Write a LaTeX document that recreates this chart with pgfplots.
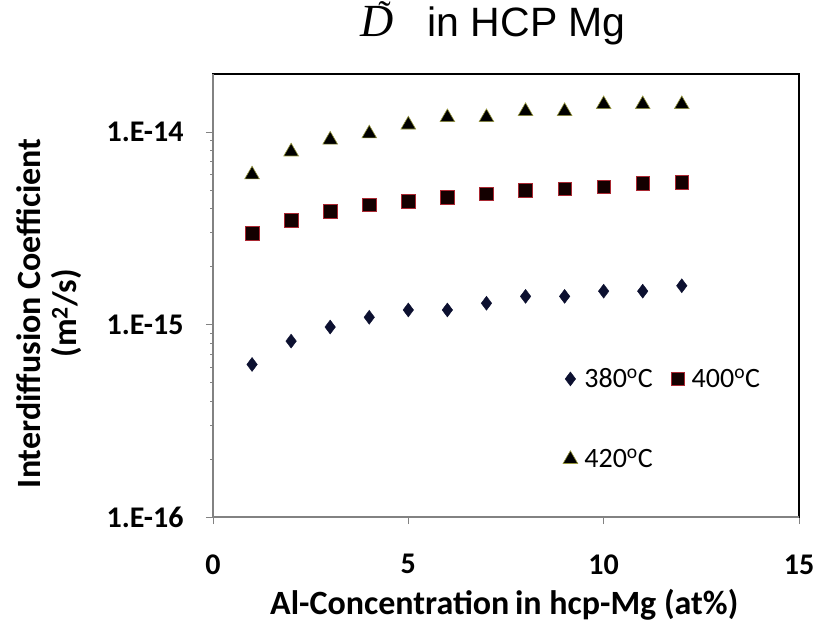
\documentclass[border=0pt]{standalone}
\usepackage{fontspec}
\setmainfont{Carlito}
\newfontfamily\titlefont{Liberation Sans}
\newfontfamily\timesfont{Liberation Serif}
\usepackage{pgfplots}
\pgfplotsset{compat=1.18}

\definecolor{navy}{RGB}{12,16,48}
\definecolor{sqfill}{RGB}{20,0,0}
\definecolor{sqedge}{RGB}{170,40,50}
\definecolor{triedge}{RGB}{150,150,60}
\definecolor{axgray}{RGB}{130,130,130}

\begin{document}
\begin{tikzpicture}
\begin{axis}[
    scale only axis,
    width=586pt, height=443pt,
    xmin=0, xmax=15,
    ymode=log,
    ymin=1e-16, ymax=2e-14,
    xtick={0,5,10,15},
    xticklabels={0,5,10,15},
    ytick={1e-16,1e-15,1e-14},
    yticklabels={1.E-16,1.E-15,1.E-14},
    minor ytick={},
    xtick pos=bottom, ytick pos=left,
    tick align=outside,
    major tick length=7pt,
    tick style={axgray, line width=0.8pt},
    axis line style={black, line width=1.2pt},
    ticklabel style={font=\bfseries\fontsize{30}{34}\selectfont},
    /pgf/number format/assume math mode=true,
    xticklabel style={yshift=-27pt},
    yticklabel style={xshift=-19pt},
    xlabel={Al-Concentration\hspace{-2pt} in hcp-Mg (at\%)},
    xlabel style={font=\bfseries\fontsize{34}{40}\selectfont, at={(axis description cs:0.497,-0.199)}, anchor=center},
    ylabel={\begin{tabular}{c}Interdiffusion Coefficient\\(m\textsuperscript{2}/s)\end{tabular}},
    ylabel style={font=\bfseries\fontsize{34}{35}\selectfont, at={(axis description cs:-0.275,0.46)}, anchor=center},
    title={{\timesfont\fontsize{46}{50}\selectfont\itshape D}\llap{\raisebox{10pt}{\timesfont\fontsize{37}{40}\selectfont\symbol{"02DC}}\hspace{3pt}}\hspace{34pt}{\titlefont\fontsize{41}{46}\selectfont in HCP Mg}},
    title style={at={(axis description cs:0.478,1.072)}, anchor=base, inner sep=0pt},
    legend columns=2,
    legend style={draw=none, fill=none, at={(axis description cs:0.597,0.34)}, anchor=north west,
        font=\fontsize{28}{32}\selectfont, row sep=56pt, inner sep=0pt,
        nodes={inner sep=2pt}, /tikz/every even column/.append style={column sep=16pt}},
    legend cell align=left,
    legend image code/.code={\path[draw=none, fill=none] (-7pt,0pt) -- (12pt,0pt); \draw[#1] plot coordinates {(0pt,0pt)};},
    clip=false,
]
\coordinate (O) at (rel axis cs:0,0);

% 380 C
\addplot[only marks, mark=diamond*, mark size=7pt, mark options={fill=navy, draw=navy}] coordinates {
    (1,6.2e-16) (2,8.2e-16) (3,9.7e-16) (4,1.09e-15) (5,1.19e-15) (6,1.19e-15)
    (7,1.29e-15) (8,1.40e-15) (9,1.40e-15) (10,1.49e-15) (11,1.49e-15) (12,1.59e-15)
};
\addlegendentry{380\textsuperscript{o}C}

% 400 C
\addplot[only marks, mark=square*, mark size=6.8pt, mark options={fill=sqfill, draw=sqedge, line width=0.6pt}] coordinates {
    (1,2.98e-15) (2,3.49e-15) (3,3.86e-15) (4,4.19e-15) (5,4.38e-15) (6,4.57e-15)
    (7,4.78e-15) (8,4.99e-15) (9,5.07e-15) (10,5.19e-15) (11,5.40e-15) (12,5.49e-15)
};
\addlegendentry{400\textsuperscript{o}C}

% 420 C
\addplot[only marks, mark=triangle*, mark size=8.5pt, mark options={fill=black, draw=triedge, line width=0.6pt}] coordinates {
    (1,6.0e-15) (2,7.9e-15) (3,9.1e-15) (4,9.8e-15) (5,1.09e-14) (6,1.19e-14)
    (7,1.19e-14) (8,1.28e-14) (9,1.28e-14) (10,1.39e-14) (11,1.39e-14) (12,1.39e-14)
};
\addlegendentry{420\textsuperscript{o}C}

% gray axis lines over left and bottom frame
\draw[axgray, line width=1.4pt] (rel axis cs:0,1) -- (rel axis cs:0,0) -- (rel axis cs:1,0);
\end{axis}
\pgfresetboundingbox
\path[use as bounding box] ([shift={(-213pt,-117pt)}]O) rectangle ++(814pt,634pt);
\end{tikzpicture}
\end{document}
